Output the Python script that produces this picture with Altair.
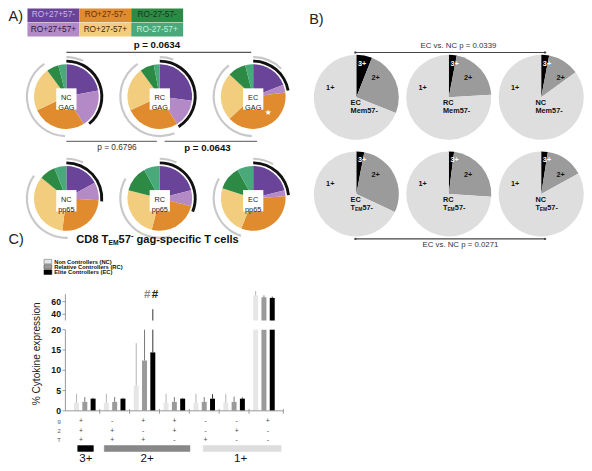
import altair as alt
import numpy as np
import pandas as pd

# ======================= DATA =======================
# ---- Panel A : SPICE pies (% of responding cells) ----
a_groups = ["NC", "RC", "EC"]
a_antigens = ["GAG", "pp65"]
a_cats = ["RO+27+57-", "RO+27+57+", "RO+27-57-", "RO+27-57+", "RO-27-57-", "RO-27-57+"]
gag_nc = [22, 19, 27, 22, 6, 4]
gag_rc = [27, 14, 27, 22, 7, 3]
gag_ec = [19, 4, 40, 24, 9, 4]
pp65_nc = [17, 9, 26, 34, 8, 6]
pp65_rc = [21, 8, 25, 25, 13, 8]
pp65_ec = [21, 3, 32, 24, 12, 8]
# outer arcs, degrees clockwise from 12 o'clock
black_end_gag = [140, 148, 80]
black_end_pp65 = [95, 112, 85]
gray_from_gag = [182, 158, 182]
gray_to_gag = [326, 326, 322]
gray_from_pp65 = [178, 165, 198]
gray_to_pp65 = [305, 300, 300]
gray_top_gag = [25, 20, 45]
gray_top_pp65 = [25, 25, 30]
a_pvalues = ["p = 0.0634", "p = 0.6796", "p = 0.0643"]
starred = [("EC", "GAG")]

# ---- Panel B : cytokine polyfunctionality pies ----
b_groups = ["EC", "RC", "NC"]
b_rows = ["Mem57-", "TEM57-"]
b_cats = ["3+", "2+", "1+"]
mem_ec = [6, 25, 69]
mem_rc = [3, 21, 76]
mem_nc = [3, 12, 85]
tem_ec = [3, 29, 68]
tem_rc = [2, 24, 74]
tem_nc = [2.5, 14.5, 83]
b_pvalues = ["EC vs. NC p = 0.0339", "EC vs. NC p = 0.0271"]

# ---- Panel C : bar chart ----
c_ctrl = ["NC", "RC", "EC"]
c_ctrl_names = ["Non Controllers (NC)", "Relative Controllers (RC)", "Elite Controllers (EC)"]
c_g = ["+", "-", "+", "+", "-", "-", "+"]
c_2 = ["+", "+", "-", "+", "-", "+", "-"]
c_T = ["+", "+", "+", "-", "+", "-", "-"]
c_nc = [2.0, 2.0, 6.2, 2.0, 2.0, 2.0, 70.0]
c_rc = [2.2, 2.2, 12.4, 2.2, 2.2, 2.2, 67.0]
c_ec = [3.0, 3.0, 14.4, 3.0, 3.0, 3.0, 66.0]
c_nc_top = [4.2, 4.2, 16.7, 4.2, 4.2, 4.2, 77.0]
c_rc_top = [3.4, 3.4, 22.0, 3.4, 3.4, 3.5, 70.0]
c_ec_top = [3.2, 3.2, 48.0, 3.2, 4.1, 3.3, 68.0]
c_lower_ticks = [0, 5, 10, 15, 20]
c_upper_ticks = [40, 60]
c_classes = ["3+", "2+", "1+"]

# ======================= STYLE / LAYOUT =======================
W, H = 576, 455
SX, SY = W / 592.0, H / 471.0
S = min(SX, SY)
FONT = "Liberation Sans"
deg = np.pi / 180.0

a_colors = ["#6a4499", "#b48ac6", "#df8b2e", "#f2cd7d", "#2c8a45", "#4aa97b"]
a_text_colors = ["#c9b4ec", "#2b1a3a", "#6a2e05", "#3d2e10", "#0e3b1c", "#c8efd9"]
b_colors = ["#000000", "#9b9b9b", "#dedede"]
bar_colors = ["#e6e6e6", "#9a9a9a", "#000000"]
err_colors = ["#b5b5b5", "#7a7a7a", "#333333"]
AXIS_GRAY = "#9a9a9a"


def fx(v):
    return v * SX


def fy(v):
    return v * SY


XF = alt.Scale(domain=[0, 592], range=[0, W], nice=False, zero=False)
YF = alt.Scale(domain=[0, 471], range=[0, H], nice=False, zero=False)


def fX(f="x"):
    return alt.X(f"{f}:Q", scale=XF, axis=None)


def fY(f="y"):
    return alt.Y(f"{f}:Q", scale=YF, axis=None)


def texts(items, size, weight="normal", color="#222222", align="center", angle=0):
    df = pd.DataFrame(items, columns=["t", "x", "y"])
    return alt.Chart(df).mark_text(font=FONT, fontSize=size * S, fontWeight=weight, color=color,
                                   align=align, baseline="middle", angle=angle).encode(
        x=fX(), y=fY(), text="t:N")


def rules(items, color, width):
    df = pd.DataFrame(items, columns=["x", "x2", "y", "y2"])
    return alt.Chart(df).mark_rule(color=color, strokeWidth=width).encode(
        x=fX(), x2="x2:Q", y=fY(), y2="y2:Q")


def rects(items):
    df = pd.DataFrame(items, columns=["x", "x2", "y", "y2", "fill", "stroke"])
    return alt.Chart(df).mark_rect(strokeWidth=0.6).encode(
        x=fX(), x2="x2:Q", y=fY(), y2="y2:Q",
        fill=alt.Fill("fill:N", scale=None), stroke=alt.Stroke("stroke:N", scale=None))


layers = []

# ======================= PANEL A =======================
layers.append(texts([("A)", 0.5, 9.5)], 15, align="left"))

# legend table
LGX = alt.Scale(type="band", domain=[0, 1, 2], range=[fx(20), fx(180)], paddingInner=0.0, paddingOuter=0.0)
LGY = alt.Scale(type="band", domain=[0, 1], range=[fy(0.5), fy(29.5)], paddingInner=0.04, paddingOuter=0.0)
legA = pd.DataFrame({"cat": a_cats, "col": [0, 0, 1, 1, 2, 2], "row": [0, 1, 0, 1, 0, 1]})
layers.append(alt.Chart(legA).mark_rect().encode(
    x=alt.X("col:O", scale=LGX, axis=None), y=alt.Y("row:O", scale=LGY, axis=None),
    color=alt.Color("cat:N", scale=alt.Scale(domain=a_cats, range=a_colors), legend=None)))
layers.append(alt.Chart(legA).mark_text(font=FONT, fontSize=8.6 * S).encode(
    x=alt.X("col:O", scale=LGX, axis=None), y=alt.Y("row:O", scale=LGY, axis=None), text="cat:N",
    color=alt.Color("cat:N", scale=alt.Scale(domain=a_cats, range=a_text_colors), legend=None)))

AXS = alt.Scale(type="point", domain=a_groups, range=[fx(60), fx(252)], padding=0)
AYS = alt.Scale(type="point", domain=a_antigens, range=[fy(91.7), fy(197)], padding=0)


def a_pos():
    return dict(x=alt.X("group:N", scale=AXS, axis=None), y=alt.Y("antigen:N", scale=AYS, axis=None))


a_vals = {"GAG": [gag_nc, gag_rc, gag_ec], "pp65": [pp65_nc, pp65_rc, pp65_ec]}
slices = []
for ant in a_antigens:
    for g, vals in zip(a_groups, a_vals[ant]):
        tot = float(sum(vals))
        c = 0.0
        for cat, v in zip(a_cats, vals):
            slices.append({"group": g, "antigen": ant, "cat": cat,
                           "t0": 2 * np.pi * c / tot, "t1": 2 * np.pi * (c + v) / tot})
            c += v
dfA = pd.DataFrame(slices)

ring_spec = {"GAG": (black_end_gag, gray_from_gag, gray_to_gag, gray_top_gag),
             "pp65": (black_end_pp65, gray_from_pp65, gray_to_pp65, gray_top_pp65)}
black_rows, gray_rows = [], []
for ant, (be, gf, gt, gtop) in ring_spec.items():
    for i, g in enumerate(a_groups):
        black_rows.append({"group": g, "antigen": ant, "t0": 0.0, "t1": be[i] * deg})
        gray_rows.append({"group": g, "antigen": ant, "t0": gf[i] * deg, "t1": gt[i] * deg})
        gray_rows.append({"group": g, "antigen": ant, "t0": 0.0, "t1": gtop[i] * deg})

layers.append(alt.Chart(pd.DataFrame(gray_rows)).mark_arc(innerRadius=39.8 * S, outerRadius=42 * S, color="#c8c8c8").encode(
    **a_pos(), theta=alt.Theta("t0:Q", scale=None, stack=None), theta2=alt.Theta2("t1:Q")))
layers.append(alt.Chart(pd.DataFrame(black_rows)).mark_arc(innerRadius=35.2 * S, outerRadius=38.2 * S, color="#111111").encode(
    **a_pos(), theta=alt.Theta("t0:Q", scale=None, stack=None), theta2=alt.Theta2("t1:Q")))
layers.append(alt.Chart(dfA).mark_arc(innerRadius=0, outerRadius=33.5 * S).encode(
    **a_pos(), theta=alt.Theta("t0:Q", scale=None, stack=None), theta2=alt.Theta2("t1:Q"),
    color=alt.Color("cat:N", scale=alt.Scale(domain=a_cats, range=a_colors), legend=None)))

dfLab = pd.DataFrame([{"group": g, "antigen": a, "label": f"{g}\n{a}"}
                      for a in a_antigens for g in a_groups])
layers.append(alt.Chart(dfLab).mark_point(shape="M-1,-1.05H1V1.05H-1Z", filled=True, color="white",
                                          opacity=1, strokeWidth=0, size=(21 * S) ** 2, yOffset=2.5 * S).encode(**a_pos()))
layers.append(alt.Chart(dfLab).mark_text(font=FONT, fontSize=7.6 * S, lineBreak="\n", lineHeight=10 * S,
                                         color="#222222", dy=1.6 * S).encode(**a_pos(), text="label:N"))
dfStar = pd.DataFrame([{"group": g, "antigen": a} for g, a in starred])
layers.append(alt.Chart(dfStar).mark_text(text="\u2605", color="white", fontSize=8 * S, font="DejaVu Sans",
                                          dx=15.5 * S, dy=17.5 * S).encode(**a_pos()))

# p-value brackets (panel A)
layers.append(rules([(60, 250, 46, 46)], "#555555", 1.2))
layers.append(rules([(60, 153, 138, 138), (161, 256, 138, 138)], "#777777", 1.2))
layers.append(texts([(a_pvalues[0], 153, 38.5), (a_pvalues[2], 205, 144.5)], 10, weight="bold", color="#111111"))
layers.append(texts([(a_pvalues[1], 112, 144.5)], 8.6, color="#333333"))

# ======================= PANEL B =======================
layers.append(texts([("B)", 317, 12.5)], 15))

BXS = alt.Scale(type="point", domain=b_groups, range=[fx(358), fx(548)], padding=0)
BYS = alt.Scale(type="point", domain=b_rows, range=[fy(92.5), fy(192.5)], padding=0)


def b_pos():
    return dict(x=alt.X("group:N", scale=BXS, axis=None), y=alt.Y("row:N", scale=BYS, axis=None))


b_vals = {"Mem57-": [mem_ec, mem_rc, mem_nc], "TEM57-": [tem_ec, tem_rc, tem_nc]}
bsl = []
for r in b_rows:
    for g, vals in zip(b_groups, b_vals[r]):
        tot = float(sum(vals))
        c = 0.0
        for cat, v in zip(b_cats, vals):
            bsl.append({"group": g, "row": r, "cat": cat,
                        "t0": 2 * np.pi * c / tot, "t1": 2 * np.pi * (c + v) / tot})
            c += v
dfB = pd.DataFrame(bsl)
layers.append(alt.Chart(dfB).mark_arc(innerRadius=0, outerRadius=44 * S).encode(
    **b_pos(), theta=alt.Theta("t0:Q", scale=None, stack=None), theta2=alt.Theta2("t1:Q"),
    color=alt.Color("cat:N", scale=alt.Scale(domain=b_cats, range=b_colors), legend=None)))

dfBp = pd.DataFrame([{"group": g, "row": r} for r in b_rows for g in b_groups])
for lab, dx, dy, col in (("3+", 6, -35, "white"), ("2+", 20, -20, "#111111"), ("1+", -27, -10, "#111111")):
    layers.append(alt.Chart(dfBp).mark_text(text=lab, font=FONT, fontSize=7.5 * S, fontWeight="bold", color=col,
                                            dx=dx * S, dy=dy * S).encode(**b_pos()))
layers.append(alt.Chart(dfBp).mark_text(font=FONT, fontSize=7.6 * S, fontWeight="bold", color="#111111",
                                        align="left", dx=-6 * S, dy=6 * S).encode(**b_pos(), text="group:N"))
layers.append(alt.Chart(dfBp[dfBp.row == "Mem57-"]).mark_text(text="Mem57-", font=FONT, fontSize=7.6 * S, fontWeight="bold",
                                                              color="#111111", align="left", dx=-6 * S, dy=14 * S).encode(**b_pos()))
tem = dfBp[dfBp.row == "TEM57-"]
layers.append(alt.Chart(tem).mark_text(text="T", font=FONT, fontSize=7.6 * S, fontWeight="bold", color="#111111",
                                       align="left", dx=-6 * S, dy=14.5 * S).encode(**b_pos()))
layers.append(alt.Chart(tem).mark_text(text="EM", font=FONT, fontSize=5 * S, fontWeight="bold", color="#111111",
                                       align="left", dx=-1.4 * S, dy=16.3 * S).encode(**b_pos()))
layers.append(alt.Chart(tem).mark_text(text="57-", font=FONT, fontSize=7.6 * S, fontWeight="bold", color="#111111",
                                       align="left", dx=6.3 * S, dy=14.5 * S).encode(**b_pos()))

layers.append(rules([(357, 552, 46, 46), (357, 552, 239, 239)], "#444444", 1.1))
dots = pd.DataFrame({"x": [357, 552, 357, 552], "y": [46, 46, 239, 239]})
layers.append(alt.Chart(dots).mark_point(filled=True, size=6, color="#222222").encode(x=fX(), y=fY()))
layers.append(texts([(b_pvalues[0], 463, 39.5), (b_pvalues[1], 465, 245)], 8.1, color="#333333"))

# ======================= PANEL C =======================
layers.append(texts([("C)", 0.5, 240)], 15, align="left"))
layers.append(texts([("CD8 T", 103, 240)], 11.5, weight="bold", color="#111111", align="right"))
layers.append(texts([("EM", 103.2, 243)], 7, weight="bold", color="#111111", align="left"))
layers.append(texts([("57", 113.6, 240)], 11.5, weight="bold", color="#111111", align="left"))
layers.append(texts([("-", 126.4, 236)], 8, weight="bold", color="#111111", align="left"))
layers.append(texts([("gag-specific T cells", 132, 240)], 11.5, weight="bold", color="#111111", align="left"))

# legend of panel C
legC_y = [262.5, 268, 273.5]
layers.append(rects([(37, 45, y - 2.3, y + 2.3, f, s) for y, f, s in
                     zip(legC_y, bar_colors, ["#777777", "#555555", "#000000"])]))
layers.append(texts([(n, 47.5, y) for n, y in zip(c_ctrl_names, legC_y)], 6, weight="bold",
                    color="#111111", align="left"))

combos = [f"g{a}2{b}T{c}" for a, b, c in zip(c_g, c_2, c_T)]
rows = []
for i, combo in enumerate(combos):
    for ctrl, v, t in zip(c_ctrl, (c_nc, c_rc, c_ec), (c_nc_top, c_rc_top, c_ec_top)):
        rows.append({"combo": combo, "ctrl": ctrl, "value": v[i], "top": t[i]})
dfC = pd.DataFrame(rows)

AX0, AX1 = 59, 283          # x-axis extent (reference px)
P_IN, P_OUT = 0.25, 0.275
BAR_X = alt.Scale(domain=combos, range=[fx(AX0), fx(AX1)], paddingInner=P_IN, paddingOuter=P_OUT)
OFF = alt.Scale(domain=c_ctrl, paddingInner=0.4, paddingOuter=0.05)
LOW_Y = alt.Scale(domain=[0, 20], range=[fy(417), fy(333)], clamp=True, nice=False, zero=True)
UP_Y = alt.Scale(domain=[30, 80], range=[fy(323.5), fy(291)], clamp=True, nice=False, zero=False)

layers.append(alt.Chart(dfC).mark_bar().encode(
    x=alt.X("combo:N", scale=BAR_X, axis=None),
    xOffset=alt.XOffset("ctrl:N", scale=OFF),
    y=alt.Y("value:Q", scale=LOW_Y, axis=None),
    color=alt.Color("ctrl:N", scale=alt.Scale(domain=c_ctrl, range=bar_colors), legend=None)))
layers.append(alt.Chart(dfC).transform_calculate(base="30").mark_bar().encode(
    x=alt.X("combo:N", scale=BAR_X, axis=None),
    xOffset=alt.XOffset("ctrl:N", scale=OFF),
    y=alt.Y("value:Q", scale=UP_Y, axis=None),
    y2="base:Q",
    color=alt.Color("ctrl:N", scale=alt.Scale(domain=c_ctrl, range=bar_colors), legend=None)))
for ys in (LOW_Y, UP_Y):
    layers.append(alt.Chart(dfC).mark_rule(strokeWidth=1).encode(
        x=alt.X("combo:N", scale=BAR_X, axis=None),
        xOffset=alt.XOffset("ctrl:N", scale=OFF),
        y=alt.Y("value:Q", scale=ys, axis=None), y2="top:Q",
        color=alt.Color("ctrl:N", scale=alt.Scale(domain=c_ctrl, range=err_colors), legend=None)))

# broken y axis (two segments) drawn through the segment scales
for ticks, ys, d0, d1 in ((c_lower_ticks, LOW_Y, 0, 20.6), (c_upper_ticks, UP_Y, 30, 72)):
    dom = pd.DataFrame({"x": [AX0], "a": [d0], "b": [d1]})
    layers.append(alt.Chart(dom).mark_rule(color=AXIS_GRAY, strokeWidth=1).encode(
        x=fX(), y=alt.Y("a:Q", scale=ys, axis=None), y2="b:Q"))
    dft = pd.DataFrame({"v": ticks, "x": [AX0 - 3] * len(ticks), "x2": [AX0] * len(ticks),
                        "xl": [AX0 - 4.5] * len(ticks), "lab": [str(t) for t in ticks]})
    layers.append(alt.Chart(dft).mark_rule(color=AXIS_GRAY, strokeWidth=1).encode(
        x=fX(), x2="x2:Q", y=alt.Y("v:Q", scale=ys, axis=None)))
    layers.append(alt.Chart(dft).mark_text(font=FONT, fontSize=9 * S, fontWeight="bold", color="#111111",
                                           align="right", baseline="middle").encode(
        x=fX("xl"), y=alt.Y("v:Q", scale=ys, axis=None), text="lab:N"))

# x axis line with ticks at group boundaries
step = (AX1 - AX0) / (len(combos) - P_IN + 2 * P_OUT)
bounds = [AX0 + P_OUT * step + (i + 1) * step - P_IN * step / 2 for i in range(len(combos) - 1)] + [AX1]
layers.append(rules([(AX0, AX1, 417, 417)], AXIS_GRAY, 1))
layers.append(rules([(b, b, 415, 420) for b in bounds], AXIS_GRAY, 1))

layers.append(texts([("#", 143, 297)], 12, weight="bold", color="#8a8a8a"))
layers.append(texts([("#", 151, 297)], 12, weight="bold", color="#222222"))

# y title
layers.append(texts([("% Cytokine expression", 30, 358)], 10.5, color="#222222", angle=270))

# marker table
marker_y = {"g": 428, "2": 438, "T": 447.5}
tab = []
for i, combo in enumerate(combos):
    for m, lst in (("g", c_g), ("2", c_2), ("T", c_T)):
        tab.append({"combo": combo, "sym": lst[i], "y": marker_y[m]})
layers.append(alt.Chart(pd.DataFrame(tab)).mark_text(font=FONT, fontSize=7 * S, color="#444444").encode(
    x=alt.X("combo:N", scale=BAR_X, axis=None), y=fY(), text="sym:N"))
layers.append(texts([(m, 52.5, y) for m, y in marker_y.items()], 6, color="#555555"))

# class bars
layers.append(rects([(71.7, 87.7, 453, 459, "#000000", "#000000"),
                     (99, 187, 453, 459, "#888888", "#888888"),
                     (200.7, 280.7, 453, 459, "#dddddd", "#dddddd")]))
layers.append(texts([(c_classes[0], 80, 466.5), (c_classes[1], 143, 466.5), (c_classes[2], 239, 466.5)], 12,
                    color="#111111"))

chart = alt.layer(*layers).resolve_scale(
    x="independent", y="independent", color="independent"
).properties(
    width=W, height=H, padding=0, autosize=alt.AutoSizeParams(type="none")
).configure_view(stroke=None)

chart.save("out.html", embed_options={"renderer": "svg", "actions": False})
